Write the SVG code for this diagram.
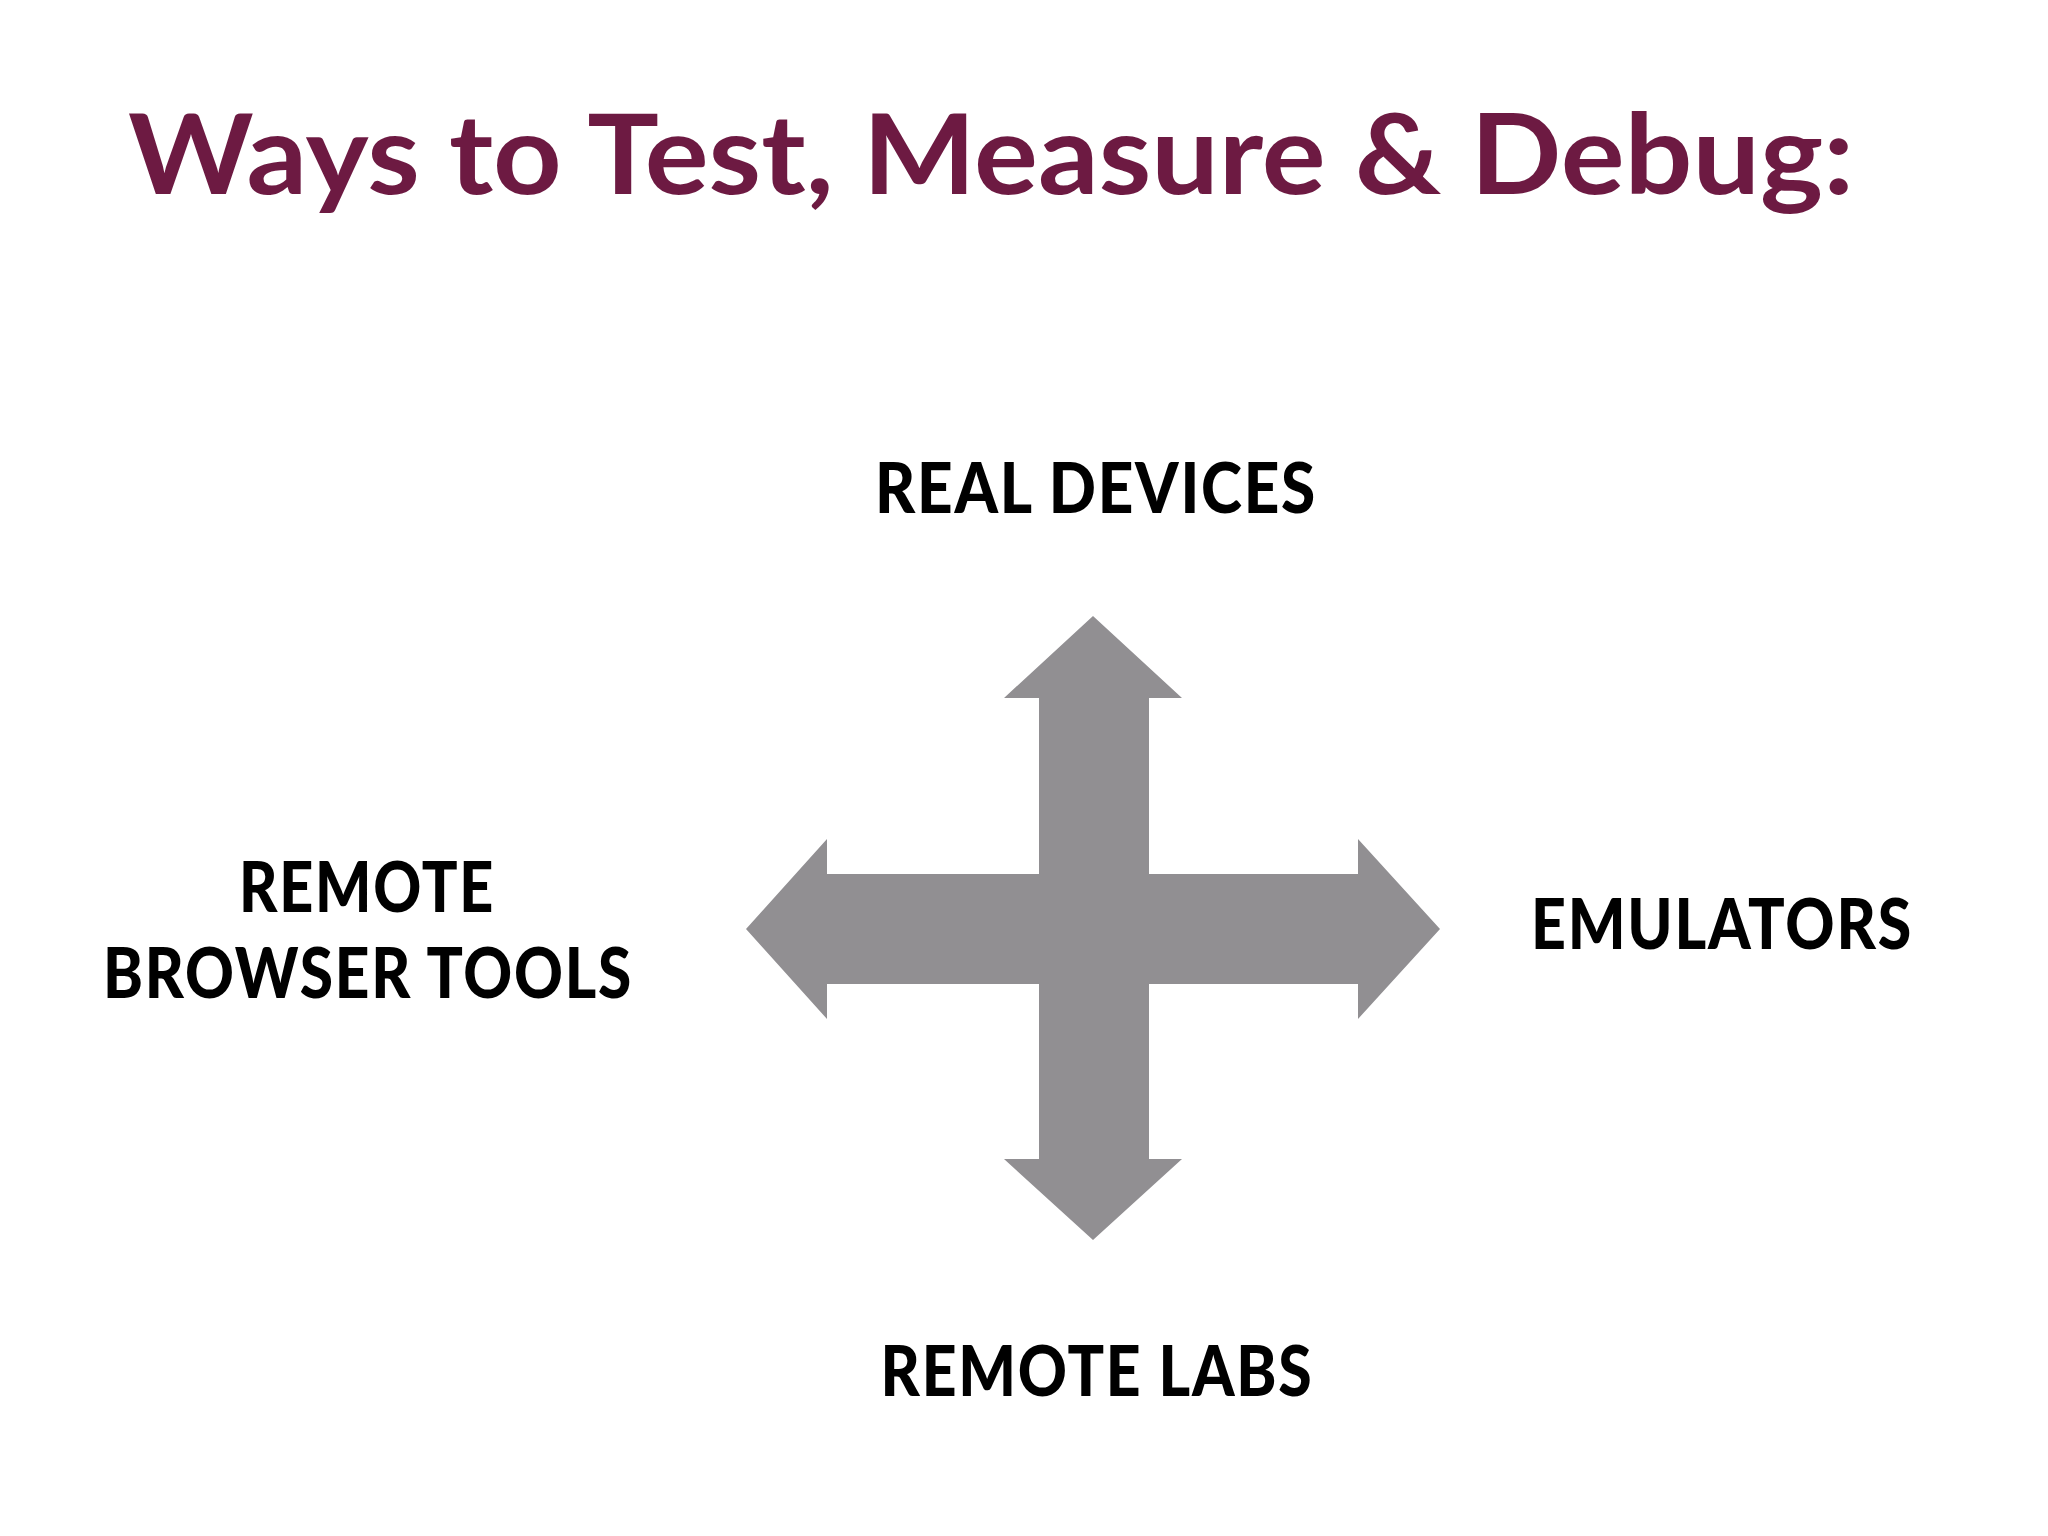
<svg xmlns="http://www.w3.org/2000/svg" width="2048" height="1536" viewBox="0 0 2048 1536">
<style>
.lbl{font-family:Lato,"Liberation Sans",sans-serif;font-weight:900;font-size:70px;fill:#000;text-anchor:middle;letter-spacing:2px}
</style>
<rect width="2048" height="1536" fill="#fff"/>
<g id="title"><text x="128" y="194" font-family="Lato,'Liberation Sans',sans-serif" font-weight="700" font-size="112" fill="#6d1a42" textLength="1726" lengthAdjust="spacingAndGlyphs">Ways to Test, Measure &amp; Debug:</text></g>
<g id="connectors">
<polygon fill="#918f92" points="1093,616 1182,698 1149,698 1149,874 1358,874 1358,839 1440,929 1358,1019 1358,984 1149,984 1149,1159 1182,1159 1093,1240 1004,1159 1039,1159 1039,984 827,984 827,1019 746,929 827,839 827,874 1039,874 1039,698 1004,698"/>
</g>
<g id="real-devices"><text class="lbl" x="1096" y="513" textLength="442" lengthAdjust="spacingAndGlyphs">REAL DEVICES</text></g>
<g id="remote-browser-tools"><text class="lbl" x="367" y="912" textLength="256" lengthAdjust="spacingAndGlyphs">REMOTE</text><text class="lbl" x="368" y="998" textLength="530" lengthAdjust="spacingAndGlyphs">BROWSER TOOLS</text></g>
<g id="emulators"><text class="lbl" x="1722" y="949" textLength="382" lengthAdjust="spacingAndGlyphs">EMULATORS</text></g>
<g id="remote-labs"><text class="lbl" x="1097" y="1396" textLength="433" lengthAdjust="spacingAndGlyphs">REMOTE LABS</text></g>
</svg>
